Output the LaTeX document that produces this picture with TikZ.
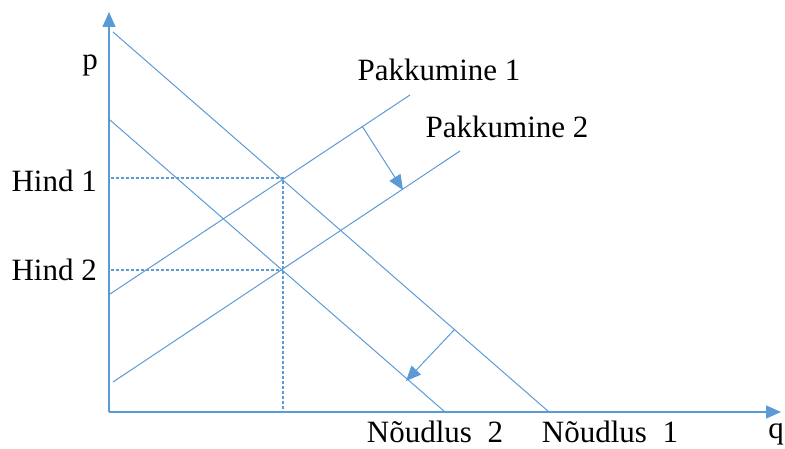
\documentclass[tikz,border=0pt]{standalone}
\usepackage{fontspec}
\setmainfont{Liberation Serif}
\usetikzlibrary{arrows.meta}
\definecolor{lineblue}{HTML}{5B9BD5}
\tikzset{
  curve/.style={draw=lineblue, line width=1pt},
  axisline/.style={draw=lineblue, line width=1.4pt, -{Triangle[length=15pt,width=13pt]}},
  shiftarrow/.style={draw=lineblue, line width=1pt, -{Triangle[length=15pt,width=13pt]}},
  guide/.style={draw=lineblue, line width=1.2pt, dash pattern=on 3pt off 2pt},
  lbl/.style={font=\fontsize{31}{32}\selectfont, inner sep=0pt, anchor=base}
}
\begin{document}
\begin{tikzpicture}[x=1pt,y=-1pt]
\useasboundingbox (0,0) rectangle (785,449);
% axes
\coordinate (O) at (109,412);
\coordinate (Ytop) at (109,12);
\coordinate (Xend) at (781,412);
\draw[axisline] (O) -- (Ytop);
\draw[axisline] (O) -- (Xend);
% demand curves
\coordinate (D1a) at (113,32);
\coordinate (D1b) at (549,412);
\coordinate (D2a) at (110,120);
\coordinate (D2b) at (445,412);
\draw[curve] (D1a) -- (D1b);
\draw[curve] (D2a) -- (D2b);
% supply curves
\coordinate (S1a) at (110,294);
\coordinate (S1b) at (410,95);
\coordinate (S2a) at (113,382);
\coordinate (S2b) at (460,151);
\draw[curve] (S1a) -- (S1b);
\draw[curve] (S2a) -- (S2b);
% equilibrium points
\coordinate (E1) at (283,178);
\coordinate (E2) at (283,270);
\coordinate (H1) at (111,178);
\coordinate (H2) at (111,270);
\coordinate (Qb) at (283,412);
\draw[guide] (H1) -- (E1) -- (Qb);
\draw[guide] (H2) -- (E2);
% shift arrows
\coordinate (A1s) at (362,126);
\coordinate (A1e) at (403,190);
\coordinate (A2s) at (455,329);
\coordinate (A2e) at (406,381);
\draw[shiftarrow] (A1s) -- (A1e);
\draw[shiftarrow] (A2s) -- (A2e);
% labels
\node[lbl] (p) at (90,70) {p};
\node[lbl,text depth=0pt] (q) at (776,438) {q};
\node[lbl] (pk1) at (439,81) {Pakkumine 1};
\node[lbl] (pk2) at (507,138) {Pakkumine 2};
\node[lbl,anchor=base east] (h1) at (97,192) {Hind 1};
\node[lbl,anchor=base east] (h2) at (97,280) {Hind 2};
\node[lbl,text depth=0pt] (n2) at (435,442) {Nõudlus~~2};
\node[lbl,text depth=0pt] (n1) at (610,442) {Nõudlus~~1};
\end{tikzpicture}
\end{document}
